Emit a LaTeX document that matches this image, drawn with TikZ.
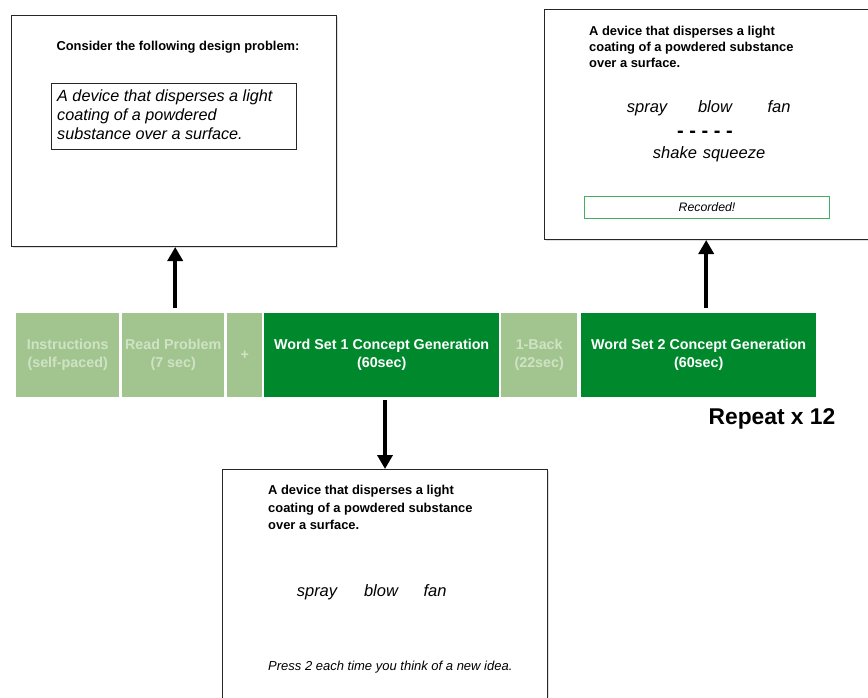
\documentclass[tikz,border=0pt]{standalone}
\usepackage{fontspec}
\setmainfont{Liberation Sans}
\usetikzlibrary{arrows.meta,shadows}

\definecolor{darkgrn}{HTML}{00892C}
\definecolor{lightgrn}{HTML}{A2C58F}
\definecolor{fadedtxt}{HTML}{CFE3C4}
\definecolor{recgrn}{HTML}{45AD60}

\tikzset{
    screen/.style={draw=black!85, line width=1pt, fill=white, anchor=north west, inner sep=0pt,
        drop shadow={shadow xshift=1pt, shadow yshift=-1.5pt, opacity=0.25}},
    phase/.style={anchor=north west, inner sep=0pt, minimum height=84, align=center, text=white,
        font=\bfseries\fontsize{14.3}{18}\selectfont},
    faded/.style={phase, fill=lightgrn, text=fadedtxt},
    active/.style={phase, fill=darkgrn},
    prompt/.style={anchor=north west, inner sep=0pt, align=left, font=\bfseries\fontsize{12.9}{17.5}\selectfont},
    cue/.style={anchor=base, inner sep=0pt, font=\itshape\fontsize{16.5}{19}\selectfont},
    bigarrow/.style={-{Triangle[length=14pt,width=15pt]}, line width=3.5pt}
}

\begin{document}
\begin{tikzpicture}[x=1pt, y=-1pt]
    \useasboundingbox (0,0) rectangle (868,698);

    % timeline of one trial
    \node [faded, minimum width=103] (instr) at (16,313) {Instructions\\(self-paced)};
    \node [faded, minimum width=102] (readprob) at (122,313) {Read Problem\\(7 sec)};
    \node [faded, minimum width=35] (fix) at (227,313) {+};
    \node [active, minimum width=235] (ws1) at (264,313) {Word Set 1 Concept Generation\\(60sec)};
    \node [faded, minimum width=76] (oneback) at (501,313) {1-Back\\(22sec)};
    \node [active, minimum width=235] (ws2) at (581,313) {Word Set 2 Concept Generation\\(60sec)};
    \node [font=\bfseries\fontsize{22.8}{26}\selectfont] (repeat) at (772,419) {Repeat x 12};

    % problem screen
    \node [screen, minimum width=325, minimum height=231] (probscreen) at (11,15) {};
    \node [font=\bfseries\fontsize{12.9}{15}\selectfont] (consider) at (178,47) {Consider the following design problem:};
    \node [draw=black!85, line width=0.8pt, anchor=north west, minimum width=245, minimum height=66] (probbox) at (51,83) {};
    \node [anchor=north west, inner sep=0pt, align=left, font=\itshape\fontsize{16.2}{19}\selectfont] (probtext) at (57,90)
        {A device that disperses a light\\coating of a powdered\\substance over a surface.};

    % word set 1 screen
    \node [screen, minimum width=325, minimum height=240] (wsscreen) at (222,469) {};
    \node [prompt] (wsprompt) at (268,485) {A device that disperses a light\\coating of a powdered substance\\over a surface.};
    \node [cue] (spraya) at (317,596) {spray};
    \node [cue] (blowa) at (381,596) {blow};
    \node [cue] (fana) at (435,596) {fan};
    \node [anchor=west, inner sep=0pt, font=\itshape\fontsize{13}{15}\selectfont] (press) at (268,667)
        {Press 2 each time you think of a new idea.};

    % word set 2 screen
    \node [screen, minimum width=340, minimum height=230] (recscreen) at (544,9) {};
    \node [prompt, font=\bfseries\fontsize{12.9}{16}\selectfont] (recprompt) at (589,26) {A device that disperses a light\\coating of a powdered substance\\over a surface.};
    \node [cue] (sprayb) at (647,113) {spray};
    \node [cue] (blowb) at (715,113) {blow};
    \node [cue] (fanb) at (779,113) {fan};
    \node [inner sep=0pt, font=\bfseries\fontsize{20}{22}\selectfont] (dashes) at (705,134) {- - - - -};
    \node [cue] (shake) at (675,159) {shake};
    \node [cue] (squeeze) at (734,159) {squeeze};
    \node [draw=recgrn, line width=1pt, anchor=north west, minimum width=245, minimum height=22, inner sep=0pt,
        font=\itshape\fontsize{12.3}{14}\selectfont] (recorded) at (584,196) {Recorded!};

    % arrows to the screens
    \draw [bigarrow, shorten <=5pt] ([xshift=2pt]readprob.north) -- ([xshift=2pt]readprob.north |- probscreen.south);
    \draw [bigarrow, shorten <=3pt] (ws1.south -| wsscreen.north) -- (wsscreen.north);
    \draw [bigarrow, shorten <=5pt] ([xshift=7.5pt]ws2.north) -- ([xshift=7.5pt]ws2.north |- recscreen.south);
\end{tikzpicture}
\end{document}
